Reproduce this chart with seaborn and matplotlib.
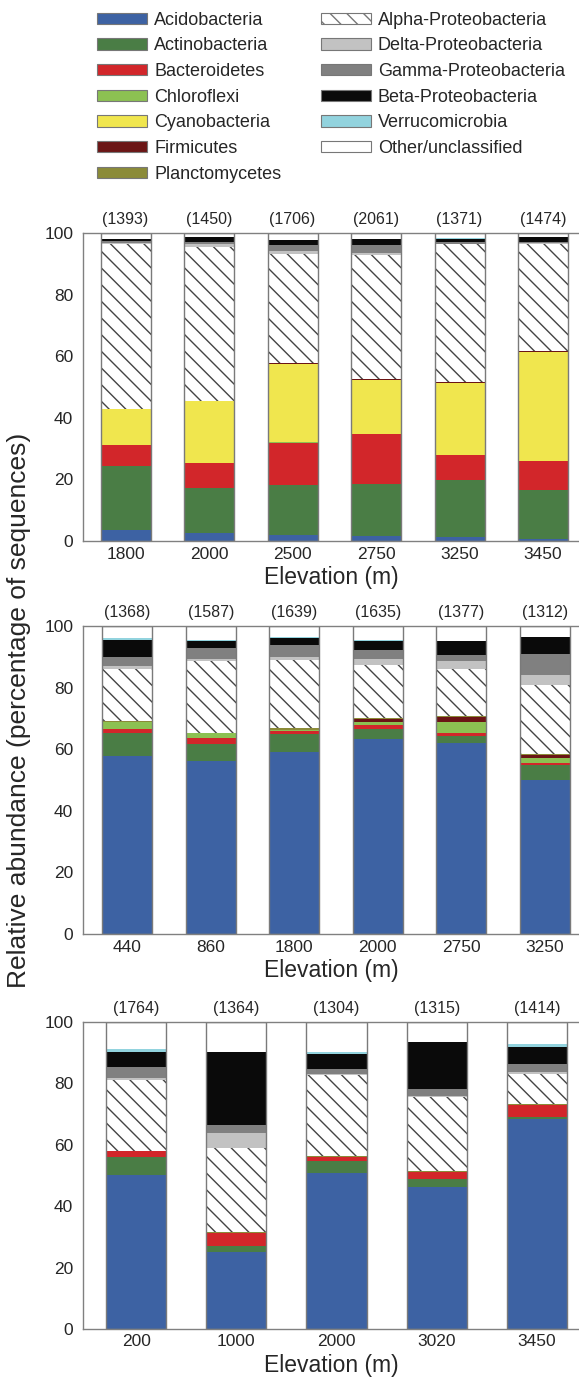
import numpy as np
import pandas as pd
import matplotlib
matplotlib.use("Agg")
import matplotlib.pyplot as plt
from matplotlib.patches import Patch
import seaborn as sns

# ---- phyla / classes (bottom to top of each bar) ----
phyla = ["Acidobacteria", "Actinobacteria", "Bacteroidetes", "Chloroflexi",
         "Cyanobacteria", "Firmicutes", "Planctomycetes", "Alpha-Proteobacteria",
         "Delta-Proteobacteria", "Gamma-Proteobacteria", "Beta-Proteobacteria",
         "Verrucomicrobia", "Other/unclassified"]
colors = ["#3d62a3", "#4a7d45", "#d2262a", "#8cc152", "#f0e64e", "#6b1515",
          "#8b8b38", "#ffffff", "#c2c2c2", "#808080", "#0a0a0a", "#92d3de",
          "#ffffff"]

# ---- panel 1 ----
elev_a = ["1800", "2000", "2500", "2750", "3250", "3450"]
counts_a = [1393, 1450, 1706, 2061, 1371, 1474]
abund_a = [
    [3.5, 2.7, 1.8, 1.5, 1.3, 0.5],        # Acidobacteria
    [20.7, 14.6, 16.3, 17.1, 18.4, 16.0],  # Actinobacteria
    [6.9, 8.0, 13.8, 16.2, 8.1, 9.5],      # Bacteroidetes
    [0.1, 0.1, 0.1, 0.1, 0.1, 0.1],        # Chloroflexi
    [11.5, 19.9, 25.6, 17.5, 23.5, 35.4],  # Cyanobacteria
    [0.1, 0.1, 0.1, 0.1, 0.1, 0.1],        # Firmicutes
    [0.2, 0.1, 0.1, 0.1, 0.1, 0.1],        # Planctomycetes
    [53.4, 50.0, 35.5, 40.4, 44.7, 34.8],  # Alpha
    [0.5, 0.8, 1.0, 0.6, 0.3, 0.2],        # Delta
    [0.4, 0.7, 1.7, 2.4, 0.5, 0.3],        # Gamma
    [0.8, 1.7, 1.8, 2.0, 0.9, 1.6],        # Beta
    [0.1, 0.1, 0.1, 0.1, 0.4, 0.1],        # Verrucomicrobia
    [1.8, 1.2, 2.1, 1.9, 1.7, 1.3],        # Other
]

# ---- panel 2 ----
elev_b = ["440", "860", "1800", "2000", "2750", "3250"]
counts_b = [1368, 1587, 1639, 1635, 1377, 1312]
abund_b = [
    [57.8, 56.2, 59.2, 63.4, 61.9, 49.9],
    [7.4, 5.4, 5.7, 3.3, 2.4, 4.9],
    [1.5, 2.0, 1.0, 1.1, 0.9, 0.8],
    [2.0, 1.6, 0.3, 0.9, 3.5, 1.7],
    [0.0, 0.0, 0.0, 0.0, 0.0, 0.0],
    [0.3, 0.1, 0.2, 1.0, 1.9, 0.8],
    [0.2, 0.1, 0.4, 0.5, 0.1, 0.3],
    [16.8, 23.1, 22.3, 17.1, 15.3, 22.5],
    [1.0, 0.9, 0.8, 2.1, 2.5, 3.1],
    [3.0, 3.5, 4.0, 2.7, 2.0, 6.8],
    [5.6, 2.1, 2.3, 3.1, 4.6, 5.6],
    [0.4, 0.6, 0.1, 0.3, 0.0, 0.0],
    [4.0, 4.4, 3.7, 4.5, 4.9, 3.6],
]

# ---- panel 3 ----
elev_c = ["200", "1000", "2000", "3020", "3450"]
counts_c = [1764, 1364, 1304, 1315, 1414]
abund_c = [
    [50.3, 25.2, 50.9, 46.3, 68.5],
    [5.8, 1.8, 3.8, 2.5, 0.6],
    [1.8, 4.3, 1.4, 2.4, 4.0],
    [0.1, 0.0, 0.0, 0.0, 0.0],
    [0.0, 0.0, 0.0, 0.0, 0.0],
    [0.0, 0.1, 0.0, 0.0, 0.0],
    [0.0, 0.2, 0.2, 0.1, 0.2],
    [23.2, 27.2, 26.5, 24.2, 9.7],
    [0.5, 4.9, 0.3, 0.3, 0.6],
    [3.7, 2.7, 1.5, 2.4, 2.6],
    [4.7, 23.8, 4.9, 15.4, 5.8],
    [1.0, 0.0, 0.8, 0.0, 0.7],
    [8.9, 9.8, 9.7, 6.4, 7.3],
]

sns.set_style("white")
plt.rcParams["font.family"] = ["Liberation Sans", "DejaVu Sans"]
plt.rcParams["hatch.linewidth"] = 1.0
plt.rcParams["hatch.color"] = "#444444"

fig = plt.figure(figsize=(5.79, 13.79), dpi=100)

panels = [
    (elev_a, counts_a, abund_a, [0.1434, 0.6077, 0.8566, 0.2233], (-0.51, 5.43)),
    (elev_b, counts_b, abund_b, [0.1434, 0.3227, 0.8566, 0.2233], (-0.53, 5.41)),
    (elev_c, counts_c, abund_c, [0.1434, 0.0363, 0.8566, 0.2226], (-0.53, 4.42)),
]

for elev, counts, abund, rect, xlim in panels:
    ax = fig.add_axes(rect)
    df = pd.DataFrame(np.array(abund).T, columns=phyla)
    df["Elevation"] = elev
    cum = df[phyla].cumsum(axis=1)

    # draw cumulative bars from top to bottom so each layer shows its own slice
    for k in range(len(phyla) - 1, -1, -1):
        hatch = "\\\\" if phyla[k] == "Alpha-Proteobacteria" else None
        sns.barplot(x=df["Elevation"], y=cum[phyla[k]], order=elev, ax=ax,
                    color=colors[k], saturation=1, width=0.6, errorbar=None,
                    linewidth=0, edgecolor="#444444", hatch=hatch)

    # outline round each full bar
    sns.barplot(x=df["Elevation"], y=cum[phyla[-1]], order=elev, ax=ax,
                color="#7a7a7a", fill=False, width=0.6, errorbar=None,
                linewidth=1.0)

    for i, c in enumerate(counts):
        ax.text(i, 102, f"({c})", ha="center", va="bottom", fontsize=11.5)

    ax.set_xlim(*xlim)
    ax.set_ylim(0, 100)
    ax.set_yticks([0, 20, 40, 60, 80, 100])
    ax.tick_params(axis="y", length=5, width=1, color="#808080",
                   labelsize=12.5, pad=2)
    ax.tick_params(axis="x", length=0, labelsize=12.5, pad=4)
    ax.set_xlabel("Elevation (m)", fontsize=16.5, labelpad=3)
    ax.set_ylabel("")
    for side in ["left", "bottom", "top"]:
        ax.spines[side].set_color("#808080")
        ax.spines[side].set_linewidth(1)
    ax.spines["right"].set_visible(False)

fig.text(0.032, 0.485, "Relative abundance (percentage of sequences)",
         rotation=90, ha="center", va="center", fontsize=19)

# legend
handles = []
for name, col in zip(phyla, colors):
    if name == "Alpha-Proteobacteria":
        handles.append(Patch(facecolor="white", edgecolor="#777777",
                             hatch="\\\\", linewidth=0.8, label=name))
    else:
        handles.append(Patch(facecolor=col, edgecolor="#777777",
                             linewidth=0.8, label=name))
fig.legend(handles=handles, loc="upper left", bbox_to_anchor=(0.168, 0.9915),
           ncol=2, frameon=False, fontsize=13, handlelength=2.75,
           handleheight=0.6, handletextpad=0.4, labelspacing=0.48,
           columnspacing=2.2, borderpad=0, borderaxespad=0)

fig.savefig("out.png", dpi=100)
